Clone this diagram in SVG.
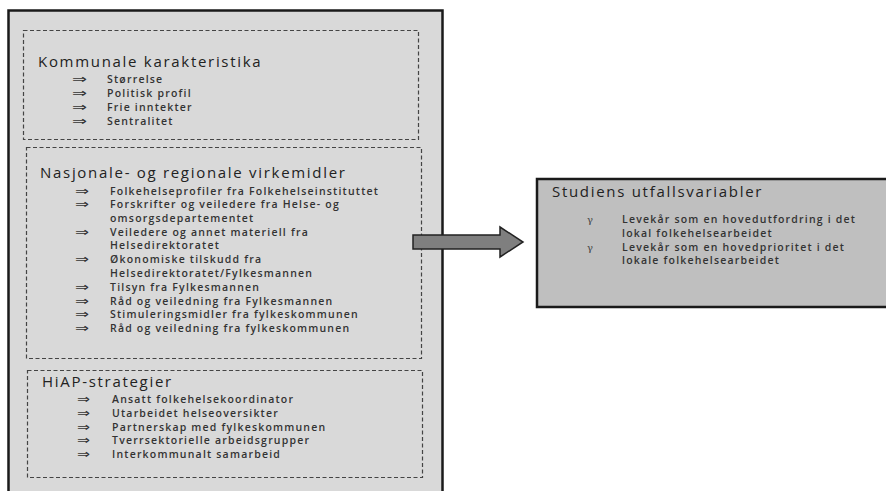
<svg xmlns="http://www.w3.org/2000/svg" width="886" height="491" viewBox="0 0 886 491">
<style>
.outer{fill:#d9d9d9;stroke:#1a1a1a;stroke-width:2.5}
.dash{fill:none;stroke:#444;stroke-width:1.2;stroke-dasharray:4 2.5}
.h{font-family:"Open Sans",sans-serif;font-size:15px;letter-spacing:1.7px;fill:#222}
.i{font-family:"Open Sans",sans-serif;font-size:10.5px;font-weight:600;letter-spacing:1.2px;fill:#333}
.ar{font-family:"DejaVu Sans",sans-serif;font-size:12px;fill:#333}
.g{font-family:"DejaVu Serif",serif;font-size:10px;fill:#444}
</style>
<rect width="886" height="491" fill="#ffffff"/>
<g id="left-panel">
<rect class="outer" x="8.5" y="10.5" width="434" height="520"/>
</g>
<g id="kommunale">
<rect class="dash" x="23.5" y="30.5" width="395" height="109"/>
<text class="h" x="38" y="67">Kommunale karakteristika</text>
<g class="ar"><text x="72" y="83" textLength="15" lengthAdjust="spacingAndGlyphs">⇒</text><text x="72" y="97" textLength="15" lengthAdjust="spacingAndGlyphs">⇒</text><text x="72" y="111" textLength="15" lengthAdjust="spacingAndGlyphs">⇒</text><text x="72" y="125" textLength="15" lengthAdjust="spacingAndGlyphs">⇒</text></g>
<g class="i"><text x="107" y="83">Størrelse</text><text x="107" y="97">Politisk profil</text><text x="107" y="111">Frie inntekter</text><text x="107" y="125">Sentralitet</text></g>
</g>
<g id="nasjonale">
<rect class="dash" x="26.5" y="147.5" width="395" height="211"/>
<text class="h" x="40" y="178">Nasjonale- og regionale virkemidler</text>
<g class="ar"><text x="75" y="195" textLength="14" lengthAdjust="spacingAndGlyphs">⇒</text><text x="75" y="208" textLength="14" lengthAdjust="spacingAndGlyphs">⇒</text><text x="75" y="236" textLength="14" lengthAdjust="spacingAndGlyphs">⇒</text><text x="75" y="263" textLength="14" lengthAdjust="spacingAndGlyphs">⇒</text><text x="75" y="291" textLength="14" lengthAdjust="spacingAndGlyphs">⇒</text><text x="75" y="305" textLength="14" lengthAdjust="spacingAndGlyphs">⇒</text><text x="75" y="318" textLength="14" lengthAdjust="spacingAndGlyphs">⇒</text><text x="75" y="332" textLength="14" lengthAdjust="spacingAndGlyphs">⇒</text></g>
<g class="i">
<text x="110" y="195">Folkehelseprofiler fra Folkehelseinstituttet</text>
<text x="110" y="208">Forskrifter og veiledere fra Helse- og</text>
<text x="110" y="222">omsorgsdepartementet</text>
<text x="110" y="236">Veiledere og annet materiell fra</text>
<text x="110" y="249">Helsedirektoratet</text>
<text x="110" y="263">Økonomiske tilskudd fra</text>
<text x="110" y="277">Helsedirektoratet/Fylkesmannen</text>
<text x="110" y="291">Tilsyn fra Fylkesmannen</text>
<text x="110" y="305">Råd og veiledning fra Fylkesmannen</text>
<text x="110" y="318">Stimuleringsmidler fra fylkeskommunen</text>
<text x="110" y="332">Råd og veiledning fra fylkeskommunen</text>
</g>
</g>
<g id="hiap">
<rect class="dash" x="27.5" y="370.5" width="395" height="107"/>
<text class="h" x="42" y="387">HiAP-strategier</text>
<g class="ar"><text x="77" y="403" textLength="13" lengthAdjust="spacingAndGlyphs">⇒</text><text x="77" y="417" textLength="13" lengthAdjust="spacingAndGlyphs">⇒</text><text x="77" y="431" textLength="13" lengthAdjust="spacingAndGlyphs">⇒</text><text x="77" y="444" textLength="13" lengthAdjust="spacingAndGlyphs">⇒</text><text x="77" y="458" textLength="13" lengthAdjust="spacingAndGlyphs">⇒</text></g>
<g class="i">
<text x="112" y="403">Ansatt folkehelsekoordinator</text>
<text x="112" y="417">Utarbeidet helseoversikter</text>
<text x="112" y="431">Partnerskap med fylkeskommunen</text>
<text x="112" y="444">Tverrsektorielle arbeidsgrupper</text>
<text x="112" y="458">Interkommunalt samarbeid</text>
</g>
</g>
<g id="utfall">
<rect x="537" y="179" width="360" height="128" fill="#bfbfbf" stroke="#1a1a1a" stroke-width="2.5"/>
<text class="h" x="552" y="197">Studiens utfallsvariabler</text>
<text class="g" x="587" y="223">γ</text><text class="g" x="587" y="251">γ</text>
<g class="i">
<text x="622" y="223">Levekår som en hovedutfordring i det</text>
<text x="622" y="237">lokal folkehelsearbeidet</text>
<text x="622" y="251">Levekår som en hovedprioritet i det</text>
<text x="622" y="264">lokale folkehelsearbeidet</text>
</g>
</g>
<g id="connectors">
<path d="M413,235 L500,235 L500,227 L523,242 L500,257 L500,249 L413,249 Z" fill="#7f7f7f" stroke="#222" stroke-width="1.5"/>
</g>
</svg>
